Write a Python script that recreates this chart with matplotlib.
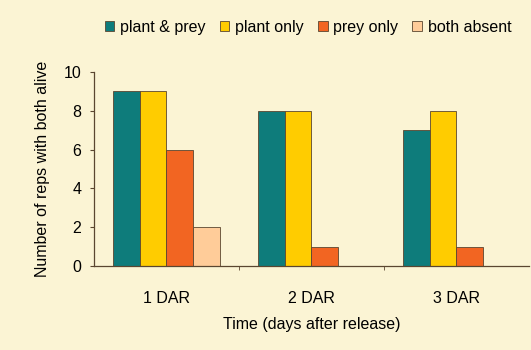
import matplotlib.pyplot as plt
import numpy as np

plt.rcParams["font.family"] = ["Liberation Sans", "DejaVu Sans"]

times = ["1 DAR", "2 DAR", "3 DAR"]
series = ["plant & prey", "plant only", "prey only", "both absent"]
plant_prey = [9, 8, 7]
plant_only = [9, 8, 8]
prey_only = [6, 1, 1]
both_absent = [2, 0, 0]

colors = ["#0E7C7B", "#FFCC00", "#F26522", "#FFCC99"]
bg = "#FBF4D4"
edge = "#5A4630"
fs = 11.5

fig = plt.figure(figsize=(5.31, 3.5), dpi=100, facecolor=bg)
ax = fig.add_axes([0.177, 0.24, 0.819, 0.554], facecolor=bg)

x = np.arange(len(times))
width = 0.183
values = [plant_prey, plant_only, prey_only, both_absent]
for i, (label, vals, col) in enumerate(zip(series, values, colors)):
    ax.bar(x + (i - 1.5) * width, vals, width, color=col, edgecolor=edge,
           linewidth=0.6, label=label)

ax.set_xlim(-0.5, 2.5)
ax.set_ylim(0, 10)
ax.set_yticks([0, 2, 4, 6, 8, 10])
ax.set_xticks(x)
ax.set_xticklabels(times, fontsize=fs)
ax.set_xticks([0.5, 1.5], minor=True)
ax.tick_params(axis="x", which="major", length=0, pad=18)
ax.tick_params(axis="x", which="minor", length=3, color=edge, direction="out")
ax.tick_params(axis="y", length=3, color=edge, labelsize=fs, pad=6)
for s in ["top", "right"]:
    ax.spines[s].set_visible(False)
for s in ["left", "bottom"]:
    ax.spines[s].set_color(edge)
    ax.spines[s].set_linewidth(0.9)

ax.set_ylabel("Number of reps with both alive", fontsize=fs, labelpad=10)
ax.set_xlabel("Time (days after release)", fontsize=fs, labelpad=8)

fig.legend(loc="upper center", bbox_to_anchor=(0.58, 0.985), ncol=4,
           frameon=False, fontsize=fs, handlelength=0.6, handleheight=0.6,
           handletextpad=0.35, columnspacing=0.9)

fig.savefig("out.png", dpi=100, facecolor=bg)
